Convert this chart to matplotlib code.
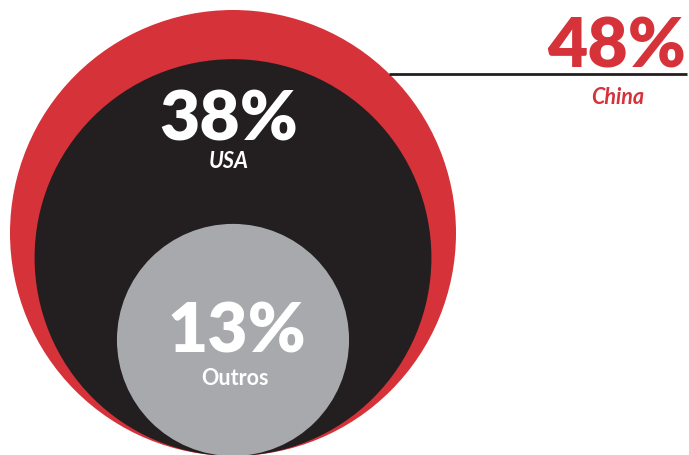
import numpy as np
import matplotlib
matplotlib.use('Agg')
from matplotlib import pyplot as plt
from matplotlib.patches import Circle

labels = ['China', 'USA', 'Outros']
values = [48, 38, 13]
pct_labels = ['48%', '38%', '13%']
colors = ['#d6323a', '#231f20', '#a7a9ac']

W, H = 689, 456
base_y = 457          # all circles touch at the bottom
cx = 233
k = 223 / np.sqrt(values[0])

fig = plt.figure(figsize=(W / 100, H / 100), dpi=100)
ax = fig.add_axes([0, 0, 1, 1])
ax.set_xlim(0, W)
ax.set_ylim(H, 0)
ax.set_aspect('equal')
ax.axis('off')

radii = [k * np.sqrt(v) for v in values]
for r, c in zip(radii, colors):
    ax.add_patch(Circle((cx, base_y - r), r, color=c, lw=0))

fam = ['Lato', 'DejaVu Sans']

# China: line from edge of red circle to right side
r0 = radii[0]
cy0 = base_y - r0
ly = 75
lx = cx + np.sqrt(r0**2 - (cy0 - ly)**2)
ax.plot([lx, 687], [ly, ly], color='#231f20', lw=2, solid_capstyle='butt')
ax.text(617, 68, pct_labels[0], color=colors[0], fontsize=50, fontweight='heavy',
        family=fam, ha='center', va='baseline')
ax.text(618, 104, labels[0], color=colors[0], fontsize=15.5, fontweight='bold',
        style='italic', family=fam, ha='center', va='baseline')

# USA
ax.text(229, 141, pct_labels[1], color='white', fontsize=50, fontweight='heavy',
        family=fam, ha='center', va='baseline')
ax.text(229, 168, labels[1], color='white', fontsize=15.5, fontweight='bold',
        style='italic', family=fam, ha='center', va='baseline')

# Outros
ax.text(237, 353, pct_labels[2], color='white', fontsize=50, fontweight='heavy',
        family=fam, ha='center', va='baseline')
ax.text(235, 385, labels[2], color='white', fontsize=15.5, fontweight='bold',
        family=fam, ha='center', va='baseline')

fig.savefig('out.png', dpi=100)
